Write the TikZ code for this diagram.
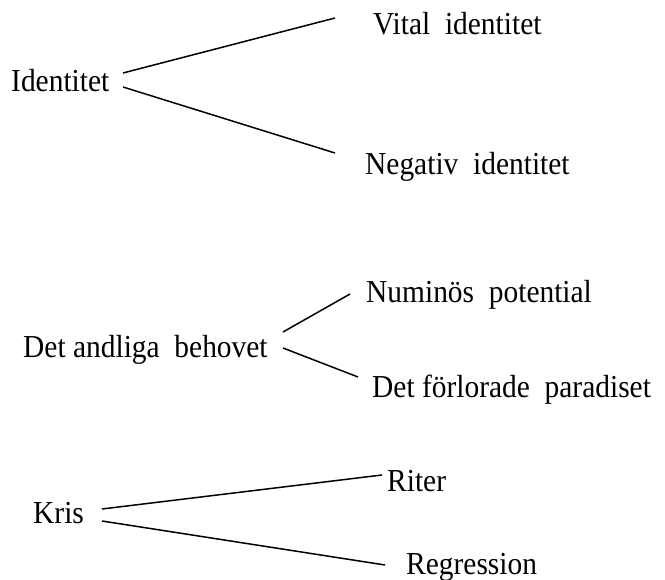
\documentclass[tikz,border=0pt]{standalone}
\usepackage{fontspec}
\setmainfont{Liberation Serif}
\begin{document}
\begin{tikzpicture}[x=1pt,y=-1pt,
  lbl/.style={anchor=base west,inner sep=0pt,font=\fontsize{32}{38}\selectfont},
  conn/.style={line width=1.5pt}]
\useasboundingbox (0,0) rectangle (665,580);
\newcommand{\wsp}{\hspace{0.25em}\space}
\newcommand{\cond}[1]{\scalebox{0.92}[1]{#1}}
% group 1
\node[lbl] (ident) at (11,92) {\cond{Identitet}};
\node[lbl] (vital) at (373,35) {\cond{Vital\wsp identitet}};
\node[lbl] (neg) at (365,175) {\cond{Negativ\wsp identitet}};
\coordinate (i1) at (123,73);
\coordinate (i2) at (123,87);
\coordinate (v1) at (335,18);
\coordinate (n1) at (335,153);
\draw[conn] (i1) -- (v1);
\draw[conn] (i2) -- (n1);
% group 2
\node[lbl] (behov) at (23,358) {\cond{Det andliga\wsp behovet}};
\node[lbl] (num) at (366,303) {\cond{Numinös\wsp potential}};
\node[lbl] (parad) at (372,398) {\cond{Det förlorade\wsp paradiset}};
\coordinate (b1) at (283,332);
\coordinate (b2) at (283,348);
\coordinate (nu1) at (350,294);
\coordinate (p1) at (358,377);
\draw[conn] (b1) -- (nu1);
\draw[conn] (b2) -- (p1);
% group 3
\node[lbl] (kris) at (33,523) {\cond{Kris}};
\node[lbl] (riter) at (387,492) {\cond{Riter}};
\node[lbl] (regr) at (406,574) {\cond{Regression}};
\coordinate (k1) at (102,509);
\coordinate (k2) at (102,521);
\coordinate (r1) at (382,475);
\coordinate (rg1) at (385,565);
\draw[conn] (k1) -- (r1);
\draw[conn] (k2) -- (rg1);
\end{tikzpicture}
\end{document}
